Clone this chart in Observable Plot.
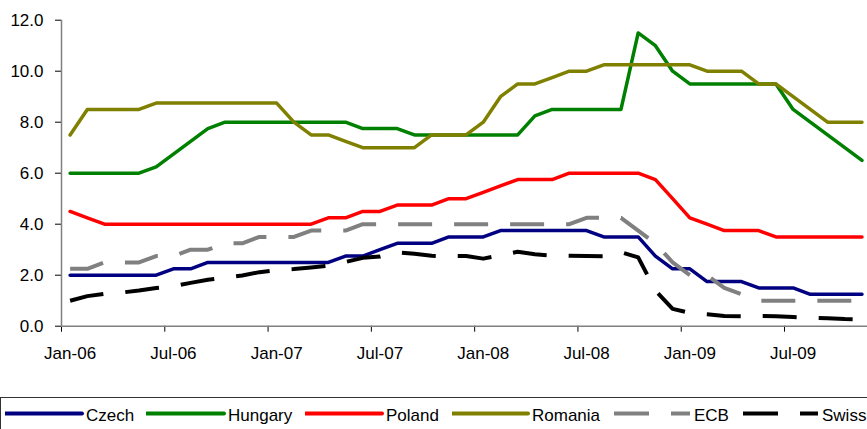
<!DOCTYPE html>
<html>
<head>
<meta charset="utf-8">
<script src="https://cdn.jsdelivr.net/npm/d3@7"></script>
<script src="https://cdn.jsdelivr.net/npm/@observablehq/plot@0.6"></script>
<style>
  html, body { margin: 0; padding: 0; background: #fff; overflow: hidden; }
  #wrap { position: relative; width: 867px; height: 429px; font-family: "Liberation Sans", Arial, sans-serif; }
  #legend { position: absolute; left: 0; top: 397px; width: 900px; height: 50px; border-top: 1px solid #333; border-left: 1px solid #333; box-sizing: border-box; }
  .item { position: absolute; top: 0; height: 40px; }
  .item svg { position: absolute; top: 0; left: 0; }
  .item span { position: absolute; top: 8px; font-size: 17px; color: #000; white-space: nowrap; }
</style>
</head>
<body>
<div id="wrap"><div id="chart"></div><div id="legend"></div></div>
<script>
// Category (month) labels, Jan-06 .. Nov-09
const months = ["Jan-06","Feb-06","Mar-06","Apr-06","May-06","Jun-06","Jul-06","Aug-06","Sep-06","Oct-06","Nov-06","Dec-06",
  "Jan-07","Feb-07","Mar-07","Apr-07","May-07","Jun-07","Jul-07","Aug-07","Sep-07","Oct-07","Nov-07","Dec-07",
  "Jan-08","Feb-08","Mar-08","Apr-08","May-08","Jun-08","Jul-08","Aug-08","Sep-08","Oct-08","Nov-08","Dec-08",
  "Jan-09","Feb-09","Mar-09","Apr-09","May-09","Jun-09","Jul-09","Aug-09","Sep-09","Oct-09","Nov-09"];
const tickLabels = ["Jan-06","Jul-06","Jan-07","Jul-07","Jan-08","Jul-08","Jan-09","Jul-09"];
const yTicks = [0, 2, 4, 6, 8, 10, 12];

const czech = [2.0,2.0,2.0,2.0,2.0,2.0,2.25,2.25,2.5,2.5,2.5,2.5,2.5,2.5,2.5,2.5,2.75,2.75,3.0,3.25,3.25,3.25,3.5,3.5,3.5,
  3.75,3.75,3.75,3.75,3.75,3.75,3.5,3.5,3.5,2.75,2.25,2.25,1.75,1.75,1.75,1.5,1.5,1.5,1.25,1.25,1.25,1.25];
const hungary = [6.0,6.0,6.0,6.0,6.0,6.25,6.75,7.25,7.75,8.0,8.0,8.0,8.0,8.0,8.0,8.0,8.0,7.75,7.75,7.75,7.5,7.5,7.5,7.5,7.5,
  7.5,7.5,8.25,8.5,8.5,8.5,8.5,8.5,11.5,11.0,10.0,9.5,9.5,9.5,9.5,9.5,9.5,8.5,8.0,7.5,7.0,6.5];
const poland = [4.5,4.25,4.0,4.0,4.0,4.0,4.0,4.0,4.0,4.0,4.0,4.0,4.0,4.0,4.0,4.25,4.25,4.5,4.5,4.75,4.75,4.75,5.0,5.0,5.25,
  5.5,5.75,5.75,5.75,6.0,6.0,6.0,6.0,6.0,5.75,5.0,4.25,4.0,3.75,3.75,3.75,3.5,3.5,3.5,3.5,3.5,3.5];
const romania = [7.5,8.5,8.5,8.5,8.5,8.75,8.75,8.75,8.75,8.75,8.75,8.75,8.75,8.0,7.5,7.5,7.25,7.0,7.0,7.0,7.0,7.5,7.5,7.5,8.0,
  9.0,9.5,9.5,9.75,10.0,10.0,10.25,10.25,10.25,10.25,10.25,10.25,10.0,10.0,10.0,9.5,9.5,9.0,8.5,8.0,8.0,8.0];
const ecb = [2.25,2.25,2.5,2.5,2.5,2.75,2.75,3.0,3.0,3.25,3.25,3.5,3.5,3.5,3.75,3.75,3.75,4.0,4.0,4.0,4.0,4.0,4.0,4.0,4.0,
  4.0,4.0,4.0,4.0,4.0,4.25,4.25,4.25,3.75,3.25,2.5,2.0,2.0,1.5,1.25,1.0,1.0,1.0,1.0,1.0,1.0,1.0];
const swiss = [1.0,1.18,1.27,1.32,1.4,1.5,1.57,1.7,1.82,1.9,1.99,2.12,2.2,2.24,2.3,2.37,2.52,2.68,2.73,2.9,2.84,2.76,2.75,2.75,2.65,
  2.78,2.92,2.82,2.77,2.76,2.75,2.74,2.9,2.7,1.4,0.68,0.52,0.47,0.4,0.39,0.4,0.39,0.36,0.33,0.31,0.28,0.27];

const seriesNames = ["Czech","Hungary","Poland","Romania","ECB","Swiss"];
const seriesValues = [czech, hungary, poland, romania, ecb, swiss];
const seriesColors = ["#000080","#008000","#ff0000","#808000","#808080","#000000"];
const seriesDashed = [false,false,false,false,true,true];

const toRows = vals => vals.map((v, i) => ({x: i + 0.5, v, m: months[i]}));

const lineMarks = seriesValues.map((vals, k) => Plot.line(toRows(vals), {
  x: "x", y: "v",
  stroke: seriesColors[k],
  strokeWidth: seriesDashed[k] ? 4 : 3.5,
  strokeDasharray: seriesDashed[k] ? "34,22" : null,
  strokeLinecap: seriesDashed[k] ? "butt" : "round",
  strokeLinejoin: "round"
}));

const tickIdx = tickLabels.map(t => months.indexOf(t));

const chart = Plot.plot({
  width: 867,
  height: 397,
  marginLeft: 61,
  marginRight: 0,
  marginTop: 19.7,
  marginBottom: 71.3,
  x: {domain: [0, 46.82], label: null},
  y: {domain: [0, 12], label: null},
  style: {fontFamily: "'Liberation Sans', Arial, sans-serif", fontSize: "17px", color: "#000", background: "#fff", overflow: "visible"},
  marks: [
    Plot.axisY({ticks: yTicks, tickFormat: d => d.toFixed(1), tickSize: 6, tickPadding: 12, stroke: "#000", strokeWidth: 1, label: null}),
    Plot.axisX({ticks: tickIdx, tickFormat: () => "", tickSize: 6, stroke: "#000", strokeWidth: 1, label: null}),
    Plot.axisX({ticks: tickIdx.map(i => i + 0.5), tickFormat: d => months[Math.round(d - 0.5)], tickSize: 0, tickPadding: 21, label: null}),
    Plot.ruleX([0], {y1: 0, y2: 12, stroke: "#808080", strokeWidth: 1.5}),
    Plot.ruleY([0], {stroke: "#808080", strokeWidth: 1.5}),
    ...lineMarks
  ]
});
document.getElementById("chart").appendChild(chart);

// Legend
const legendPos = [[5, 86], [146, 228], [305, 386], [452, 532], [614, 694], [743, 822]];
const legend = document.getElementById("legend");
seriesNames.forEach((name, k) => {
  const [lx, tx] = legendPos[k];
  const item = document.createElement("div");
  item.className = "item";
  item.style.left = "0px";
  const w = tx - lx - 4;
  const svg = d3.create("svg").attr("width", w + 4).attr("height", 30)
    .style("left", (lx - 1) + "px");
  svg.append("line")
    .attr("x1", 0).attr("x2", w).attr("y1", 15.5).attr("y2", 15.5)
    .attr("stroke", seriesColors[k]).attr("stroke-width", 4)
    .attr("stroke-linecap", seriesDashed[k] ? "butt" : "round")
    .attr("stroke-dasharray", seriesDashed[k] ? "35,22" : null);
  item.appendChild(svg.node());
  const span = document.createElement("span");
  span.textContent = name;
  span.style.left = (tx - 1) + "px";
  item.appendChild(span);
  legend.appendChild(item);
});
</script>
</body>
</html>
